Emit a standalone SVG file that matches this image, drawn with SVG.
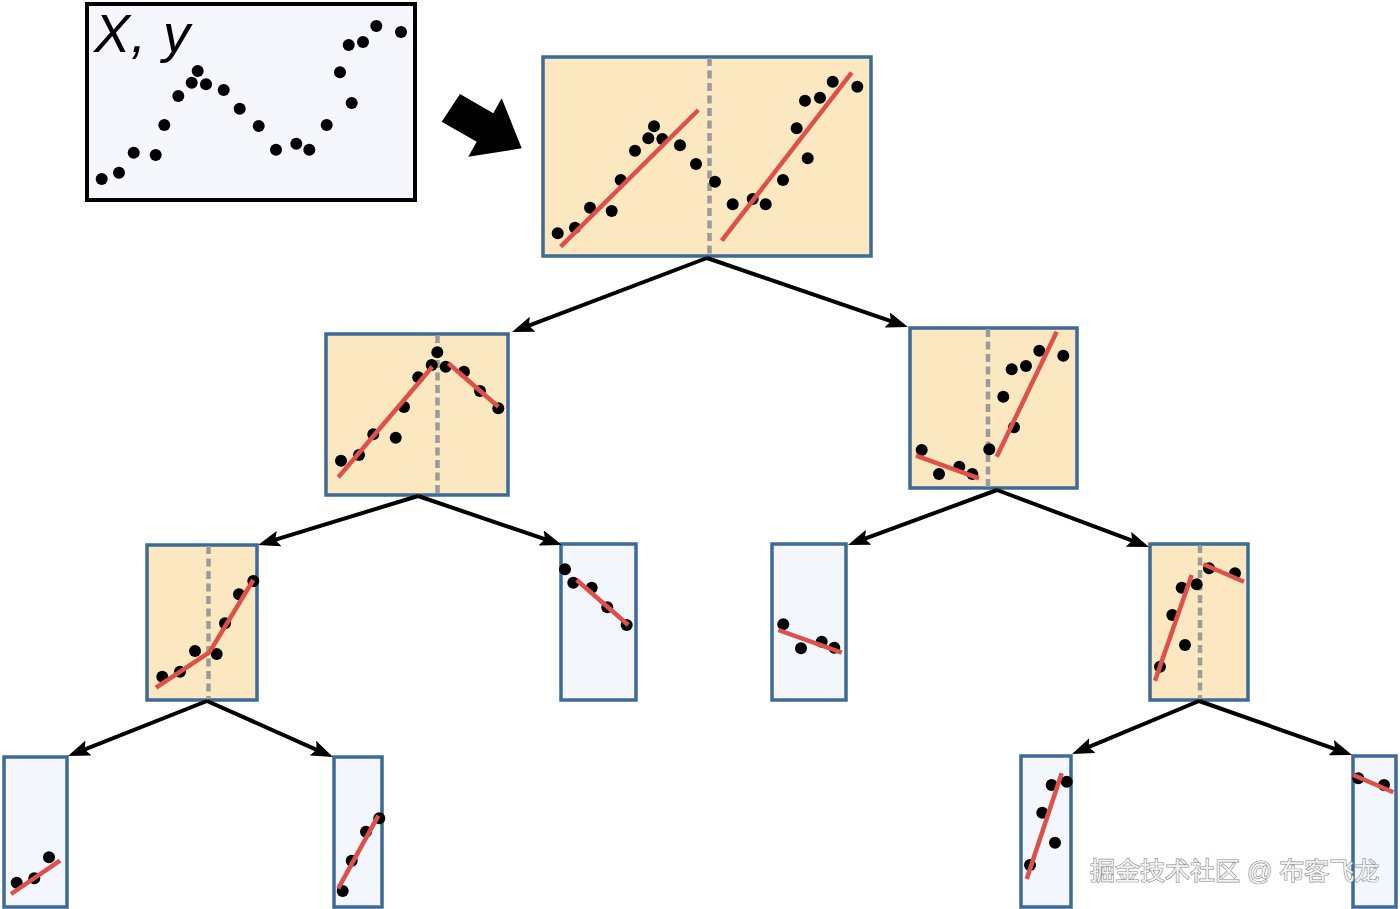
<svg xmlns="http://www.w3.org/2000/svg" width="1400" height="909" viewBox="0 0 1400 909">
<style>
.box{fill:#fbe8c1;stroke:#3d6a96;stroke-width:3.5}
.leaf{fill:#f3f6fd;stroke:#3d6a96;stroke-width:3.5}
.data{fill:#f5f7fd;stroke:#000;stroke-width:4}
.split{stroke:#9b9b9b;stroke-width:4.5;stroke-dasharray:8 4.5;fill:none}
.fit{stroke:#e0504a;stroke-width:4.5;fill:none}
.pt circle{fill:#000}
.conn{stroke:#000;stroke-width:4;fill:none;marker-end:url(#ah)}
.lbl{font-family:"Liberation Sans",Arial,sans-serif;font-style:italic;font-size:54px;fill:#000}
.wm{font-family:"Liberation Sans","Noto Sans CJK SC",sans-serif;font-size:25px;fill:#f2f2f2;stroke:#888;stroke-width:1.2;paint-order:stroke}
</style>
<defs>
<marker id="ah" viewBox="0 0 22 16" refX="14" refY="8" markerWidth="22" markerHeight="16" markerUnits="userSpaceOnUse" orient="auto">
<path d="M0,0 L22,8 L0,16 L4,8 z" fill="#000"/>
</marker>
</defs>
<rect width="1400" height="909" fill="#fff"/>

<g id="data">
<rect class="data" x="87" y="4" width="328" height="196"/>
<text class="lbl" x="94" y="52" letter-spacing="1">X, y</text>
<g class="pt">
<circle cx="101.7" cy="179" r="6"/><circle cx="119" cy="172.7" r="6"/><circle cx="133.7" cy="152.7" r="6"/><circle cx="155.7" cy="155" r="6"/><circle cx="164.3" cy="125" r="6"/><circle cx="178.3" cy="96" r="6"/><circle cx="191.7" cy="82.7" r="6"/><circle cx="197.7" cy="71" r="6"/><circle cx="206" cy="84.3" r="6"/><circle cx="223.7" cy="90" r="6"/><circle cx="239.7" cy="108.7" r="6"/><circle cx="258.7" cy="126" r="6"/><circle cx="276" cy="149.7" r="6"/><circle cx="296.3" cy="143.7" r="6"/><circle cx="309.3" cy="149.7" r="6"/><circle cx="326.7" cy="125" r="6"/><circle cx="351.7" cy="103" r="6"/><circle cx="340" cy="72.3" r="6"/><circle cx="348.7" cy="45" r="6"/><circle cx="363" cy="42" r="6"/><circle cx="376.3" cy="26" r="6"/><circle cx="401" cy="32" r="6"/>
</g>
</g>

<g id="bigarrow">
<polygon points="460,94 493.3,113.3 501.7,98.3 521.7,148.3 468.3,156.7 476.7,141.7 441.7,121.7" fill="#000"/>
</g>

<g id="root">
<rect class="box" x="543" y="57" width="328" height="199"/>
<line class="split" x1="709.5" y1="58" x2="709.5" y2="255"/>
<g class="pt">
<circle cx="557.7" cy="233.3" r="6"/><circle cx="575" cy="227.7" r="6"/><circle cx="590" cy="207.7" r="6"/><circle cx="611.7" cy="211" r="6"/><circle cx="620.7" cy="180" r="6"/><circle cx="635" cy="150.7" r="6"/><circle cx="648.3" cy="138.3" r="6"/><circle cx="654" cy="126.3" r="6"/><circle cx="662.3" cy="139" r="6"/><circle cx="680" cy="145.3" r="6"/><circle cx="696" cy="164" r="6"/><circle cx="715" cy="181.7" r="6"/><circle cx="732.7" cy="204.3" r="6"/><circle cx="752.7" cy="199" r="6"/><circle cx="765.7" cy="204.3" r="6"/><circle cx="783" cy="180" r="6"/><circle cx="807.7" cy="158.3" r="6"/><circle cx="796.7" cy="128.3" r="6"/><circle cx="805" cy="100.7" r="6"/><circle cx="820" cy="97.7" r="6"/><circle cx="832.7" cy="81.7" r="6"/><circle cx="857.3" cy="86.7" r="6"/>
</g>
<line class="fit" x1="560.7" y1="246.7" x2="698.3" y2="110"/>
<line class="fit" x1="721.7" y1="240.7" x2="851.7" y2="72.7"/>
</g>

<g id="n-left">
<rect class="box" x="326" y="334" width="182" height="161"/>
<line class="split" x1="437.5" y1="335" x2="437.5" y2="494"/>
<g class="pt">
<circle cx="341" cy="460.7" r="6"/><circle cx="359" cy="455" r="6"/><circle cx="373.3" cy="434.3" r="6"/><circle cx="395.7" cy="437.7" r="6"/><circle cx="404" cy="407" r="6"/><circle cx="418.3" cy="377.3" r="6"/><circle cx="431.7" cy="365" r="6"/><circle cx="437.3" cy="352.3" r="6"/><circle cx="445.7" cy="366.7" r="6"/><circle cx="464" cy="371.7" r="6"/><circle cx="480" cy="391" r="6"/><circle cx="498.3" cy="408.3" r="6"/>
</g>
<line class="fit" x1="338.3" y1="477.3" x2="432.3" y2="366.7"/>
<line class="fit" x1="448.3" y1="363.3" x2="498.3" y2="406.7"/>
</g>

<g id="n-right">
<rect class="box" x="910" y="328" width="167" height="160"/>
<line class="split" x1="988" y1="329" x2="988" y2="487"/>
<g class="pt">
<circle cx="921.7" cy="450" r="6"/><circle cx="939" cy="474" r="6"/><circle cx="959.3" cy="466.7" r="6"/><circle cx="972.3" cy="474" r="6"/><circle cx="989.3" cy="449.3" r="6"/><circle cx="1014" cy="427.3" r="6"/><circle cx="1003.3" cy="396.7" r="6"/><circle cx="1011.7" cy="369.3" r="6"/><circle cx="1026" cy="366" r="6"/><circle cx="1039.3" cy="350.7" r="6"/><circle cx="1063.3" cy="355.7" r="6"/>
</g>
<line class="fit" x1="916" y1="455.7" x2="979" y2="478.3"/>
<line class="fit" x1="996.7" y1="456.7" x2="1056.7" y2="331.7"/>
</g>

<g id="n-ll">
<rect class="box" x="147" y="545" width="110" height="155"/>
<line class="split" x1="208.5" y1="546" x2="208.5" y2="699"/>
<g class="pt">
<circle cx="162.3" cy="676.7" r="6"/><circle cx="180" cy="671.7" r="6"/><circle cx="195" cy="651" r="6"/><circle cx="216.7" cy="654" r="6"/><circle cx="225" cy="623.3" r="6"/><circle cx="239" cy="594.3" r="6"/><circle cx="253.3" cy="581" r="6"/>
</g>
<polyline class="fit" points="156,687.7 209.3,652.3 253.3,580"/>
</g>

<g id="n-lr">
<rect class="leaf" x="561" y="544" width="75" height="156"/>
<g class="pt">
<circle cx="565" cy="569.3" r="6"/><circle cx="573.3" cy="582.7" r="6"/><circle cx="591.7" cy="587.7" r="6"/><circle cx="607.3" cy="607.3" r="6"/><circle cx="626.7" cy="625" r="6"/>
</g>
<line class="fit" x1="576.7" y1="580" x2="628.3" y2="625"/>
</g>

<g id="n-rl">
<rect class="leaf" x="772" y="544" width="74" height="156"/>
<g class="pt">
<circle cx="783.3" cy="624.3" r="6"/><circle cx="801" cy="648.3" r="6"/><circle cx="821.7" cy="641.7" r="6"/><circle cx="834.3" cy="647.7" r="6"/>
</g>
<line class="fit" x1="778.3" y1="630" x2="841.7" y2="652.7"/>
</g>

<g id="n-rr">
<rect class="box" x="1150" y="544" width="98" height="156"/>
<line class="split" x1="1200" y1="545" x2="1200" y2="699"/>
<g class="pt">
<circle cx="1160" cy="666.7" r="6"/><circle cx="1185" cy="645" r="6"/><circle cx="1172.3" cy="615" r="6"/><circle cx="1181.7" cy="587.7" r="6"/><circle cx="1196.7" cy="584.3" r="6"/><circle cx="1209" cy="568.3" r="6"/><circle cx="1235" cy="573.3" r="6"/>
</g>
<line class="fit" x1="1155" y1="680.7" x2="1191.7" y2="575"/>
<line class="fit" x1="1203.3" y1="564.3" x2="1244" y2="581.7"/>
</g>

<g id="n-lll">
<rect class="leaf" x="4" y="757" width="63" height="150"/>
<g class="pt">
<circle cx="16.7" cy="882.7" r="6"/><circle cx="34.3" cy="878.3" r="6"/><circle cx="49" cy="857.3" r="6"/>
</g>
<line class="fit" x1="11" y1="894" x2="60" y2="860.7"/>
</g>

<g id="n-llr">
<rect class="leaf" x="334" y="757" width="48" height="150"/>
<g class="pt">
<circle cx="342.7" cy="891" r="6"/><circle cx="351.7" cy="860.7" r="6"/><circle cx="366" cy="831.7" r="6"/><circle cx="379.3" cy="818.3" r="6"/>
</g>
<line class="fit" x1="338.3" y1="888.3" x2="378.3" y2="815.7"/>
</g>

<g id="n-rrl">
<rect class="leaf" x="1021" y="756" width="50" height="151"/>
<g class="pt">
<circle cx="1030" cy="865" r="6"/><circle cx="1055" cy="842.7" r="6"/><circle cx="1042.3" cy="812.7" r="6"/><circle cx="1051.7" cy="785" r="6"/><circle cx="1066.7" cy="781.7" r="6"/>
</g>
<line class="fit" x1="1026.7" y1="879" x2="1061.7" y2="773.3"/>
</g>

<g id="n-rrr">
<rect class="leaf" x="1353" y="756" width="43" height="151"/>
<g class="pt">
<circle cx="1358.3" cy="778.3" r="6"/><circle cx="1384" cy="785" r="6"/>
</g>
<line class="fit" x1="1353.3" y1="775" x2="1393.3" y2="792.3"/>
</g>

<g id="connectors">
<line class="conn" x1="707" y1="258" x2="519.5" y2="329.2"/>
<line class="conn" x1="707" y1="258" x2="900.4" y2="324.4"/>
<line class="conn" x1="418" y1="496" x2="265.7" y2="542.7"/>
<line class="conn" x1="418" y1="496" x2="554.4" y2="542.4"/>
<line class="conn" x1="997" y1="490" x2="855.5" y2="542.2"/>
<line class="conn" x1="997" y1="490" x2="1141.5" y2="544.2"/>
<line class="conn" x1="207" y1="701" x2="75.4" y2="753.1"/>
<line class="conn" x1="207" y1="701" x2="325.7" y2="753.8"/>
<line class="conn" x1="1199" y1="701" x2="1079.4" y2="750.9"/>
<line class="conn" x1="1199" y1="701" x2="1344.5" y2="752.3"/>
</g>

<text class="wm" x="1090" y="880">掘金技术社区 @ 布客飞龙</text>
</svg>
